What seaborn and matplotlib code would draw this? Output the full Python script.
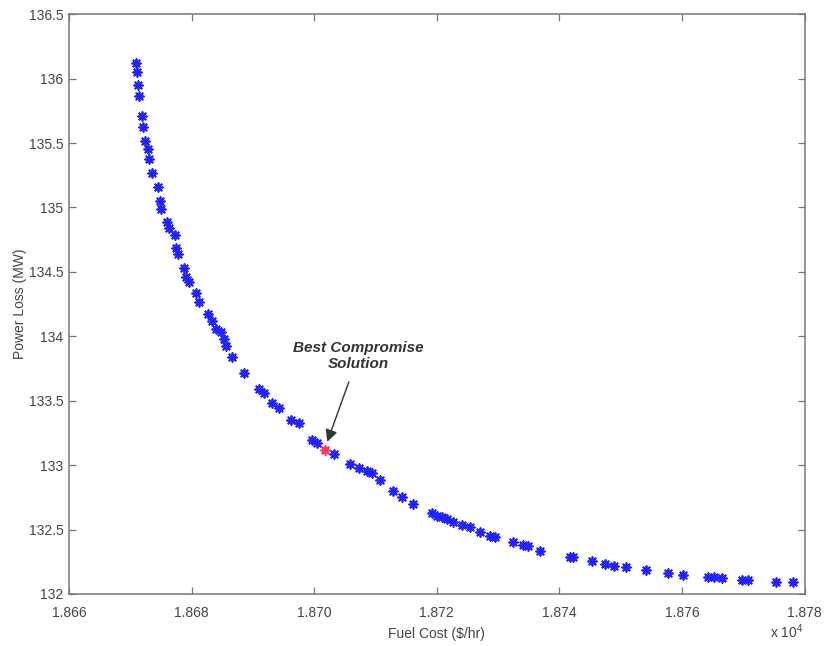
import matplotlib
matplotlib.use("Agg")
import matplotlib.pyplot as plt
import matplotlib.ticker as mticker
import seaborn as sns
import pandas as pd

fuel_cost = [18670.94, 18671.06, 18671.32, 18671.48, 18671.87, 18672.03, 18672.41, 18672.85,
             18673.11, 18673.54, 18674.47, 18674.85, 18675.01, 18675.93, 18676.36, 18677.28,
             18677.45, 18677.82, 18678.70, 18679.07, 18679.61, 18680.70, 18681.24, 18682.60,
             18683.41, 18683.95, 18684.76, 18685.30, 18685.58, 18686.67, 18688.55, 18690.99,
             18691.80, 18693.17, 18694.24, 18696.15, 18697.50, 18699.67, 18700.49,
             18703.19, 18705.90, 18707.25, 18708.62, 18709.43, 18710.78, 18712.94, 18714.31,
             18716.10, 18719.19, 18720.00, 18720.81, 18721.63, 18722.70, 18724.07, 18725.41,
             18727.04, 18728.66, 18729.48, 18732.36, 18734.08, 18734.89, 18736.80, 18741.67,
             18742.21, 18745.30, 18747.48, 18748.99, 18750.89, 18754.15, 18757.66, 18760.10,
             18764.33, 18765.25, 18766.50, 18769.85, 18770.83, 18775.28, 18778.10]
power_loss = [136.120, 136.055, 135.951, 135.865, 135.713, 135.627, 135.515, 135.450,
              135.375, 135.271, 135.160, 135.051, 134.985, 134.887, 134.843, 134.783,
              134.685, 134.640, 134.529, 134.463, 134.420, 134.336, 134.264, 134.173,
              134.121, 134.056, 134.030, 133.978, 133.926, 133.836, 133.713, 133.594,
              133.563, 133.485, 133.446, 133.350, 133.324, 133.199, 133.174,
              133.083, 133.010, 132.979, 132.952, 132.940, 132.888, 132.797, 132.753,
              132.699, 132.629, 132.602, 132.594, 132.582, 132.558, 132.537, 132.519,
              132.485, 132.454, 132.446, 132.403, 132.379, 132.376, 132.337, 132.290,
              132.286, 132.259, 132.234, 132.220, 132.208, 132.187, 132.161, 132.148,
              132.135, 132.135, 132.127, 132.109, 132.109, 132.096, 132.096]

best_cost = [18701.84]
best_loss = [133.121]

annotation_text = "Best Compromise\nSolution"
x_label = "Fuel Cost ($/hr)"
y_label = "Power Loss (MW)"
x_multiplier_text = r"x 10$^4$"
x_ticks = [18660, 18680, 18700, 18720, 18740, 18760, 18780]
y_ticks = [132, 132.5, 133, 133.5, 134, 134.5, 135, 135.5, 136, 136.5]

sns.set_style("white")
plt.rcParams['font.family'] = ['Liberation Sans', 'DejaVu Sans']
plt.rcParams['mathtext.fontset'] = 'custom'
plt.rcParams['mathtext.rm'] = 'Liberation Sans'

fig = plt.figure(figsize=(8.26, 6.46), dpi=100)
ax = fig.add_axes([0.0835, 0.0805, 0.8905, 0.8975])

df = pd.DataFrame({"cost": fuel_cost, "loss": power_loss})
best = pd.DataFrame({"cost": best_cost, "loss": best_loss})

asterisk = (8, 2, 0)
sns.scatterplot(data=df, x="cost", y="loss", ax=ax, marker=asterisk, s=40,
                color="#2222ff", edgecolor="#2222ff", linewidth=1.3, legend=False)
sns.scatterplot(data=best, x="cost", y="loss", ax=ax, marker=asterisk, s=40,
                color="#ff3366", edgecolor="#ff3366", linewidth=1.3, legend=False, zorder=5)

ax.set_xlim(18660, 18780)
ax.set_ylim(132, 136.5)
ax.set_xticks(x_ticks)
ax.set_yticks(y_ticks)
ax.xaxis.set_major_formatter(mticker.FuncFormatter(lambda v, p: f"{v/1e4:.3f}"))
ax.yaxis.set_major_formatter(mticker.FuncFormatter(lambda v, p: f"{v:g}"))

text_color = "#444444"
for sp in ax.spines.values():
    sp.set_color("#777777")
    sp.set_linewidth(1.1)
ax.tick_params(direction='in', length=5, width=0.9, color="#777777",
               labelsize=10, labelcolor=text_color, top=True, right=True,
               bottom=True, left=True)
ax.tick_params(axis='x', pad=9)
ax.tick_params(axis='y', pad=4)

ax.set_xlabel(x_label, fontsize=10, color=text_color, labelpad=5)
ax.set_ylabel(y_label, fontsize=10, color=text_color)
ax.yaxis.set_label_coords(-0.057, 0.5)
fig.text(0.932, 0.022, x_multiplier_text, fontsize=10, color=text_color,
         ha='left', va='center')

ax.annotate(annotation_text, xy=(best_cost[0] + 0.3, best_loss[0] + 0.06),
            xytext=(18707.2, 133.85), ha='center', va='center',
            fontsize=11, fontweight='bold', fontstyle='italic', color="#333333",
            arrowprops=dict(arrowstyle='-|>', color="#333333", lw=1.0,
                            mutation_scale=18, shrinkA=6, shrinkB=0))

fig.savefig("out.png", dpi=100)
